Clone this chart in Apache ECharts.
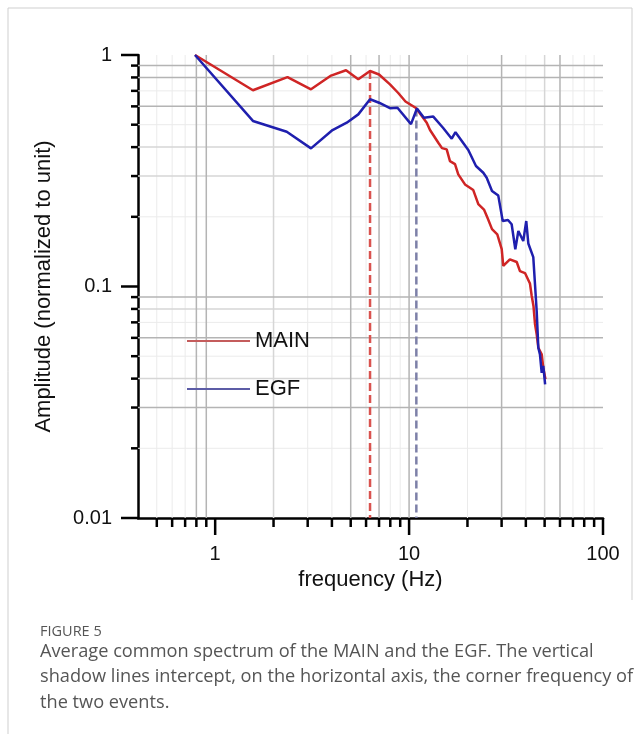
<!DOCTYPE html>
<html><head><meta charset="utf-8">
<script src="https://cdn.jsdelivr.net/npm/echarts@6/dist/echarts.min.js"></script>
<style>html,body{margin:0;padding:0;background:#fff}#c{width:640px;height:734px}</style>
</head><body><div id="c"></div>
<script>
// ---- data ----
const mainFreq = [0.787,1.566,2.36,3.12,3.96,4.73,5.47,6.29,7.0,7.97,8.77,9.58,10.85,12.33,12.82,14.15,14.78,15.63,16.25,17.25,17.93,19.42,21.43,22.75,24.33,25.37,26.77,28.5,30.04,30.6,33.1,35.9,37.3,39.6,42.0,42.9,43.8,44.6,45.5,46.4,48.3,49.2,50.5];
const mainAmp  = [1.0,0.704,0.803,0.711,0.815,0.859,0.785,0.853,0.824,0.747,0.687,0.630,0.590,0.510,0.474,0.418,0.396,0.391,0.348,0.338,0.305,0.276,0.261,0.227,0.215,0.198,0.177,0.168,0.145,0.1227,0.131,0.1276,0.1166,0.1143,0.103,0.091,0.0824,0.0689,0.0621,0.0544,0.0509,0.0446,0.0398];
const egfFreq = [0.787,1.566,2.34,3.12,4.03,4.77,5.47,6.29,7.0,7.97,8.71,10.23,10.98,11.93,13.33,14.96,16.59,17.35,20.2,22.13,24.14,25.13,26.77,28.84,30.4,32.36,33.8,35.3,36.6,38.8,40.2,41.2,43.7,45.5,46.4,47.3,48.3,49.2,50.3];
const egfAmp  = [1.0,0.519,0.466,0.395,0.474,0.510,0.554,0.644,0.622,0.589,0.592,0.503,0.587,0.536,0.542,0.485,0.435,0.464,0.389,0.3315,0.310,0.295,0.2586,0.247,0.1918,0.1937,0.1857,0.1448,0.1737,0.1572,0.1918,0.1534,0.134,0.0784,0.0544,0.0509,0.0424,0.0454,0.0378];
const cornerMain = [6.29, 0.853];
const cornerEgf  = [10.9, 0.587];
const xMin = 0.4, xMax = 100, yMin = 0.01, yMax = 1;
const xMajorTicks = [1, 10, 100];
const xMinorTicks = [0.5,0.6,0.7,0.8,0.9,2,3,4,5,6,7,8,9,20,30,40,50,60,70,80,90];
const yMajorTicks = [0.01, 0.1, 1];
const yMinorTicks = [0.02,0.03,0.04,0.05,0.06,0.07,0.08,0.09,0.2,0.3,0.4,0.5,0.6,0.7,0.8,0.9];
const xGridLight = [0.5,0.6,0.7,3,4,6,8,9,20,40,70,80,90];
const xGridMid   = [2,50];
const xGridDark  = [0.8,0.9,5,7,10,30,60];
const yGridLight = [0.7,0.5,0.2,0.07,0.05,0.02];
const yGridMid   = [0.4,0.3,0.08,0.04];
const yGridDark  = [0.9,0.8,0.6,0.09,0.06,0.03];

const FONT = '"Liberation Sans", Arial, sans-serif';
const chart = echarts.init(document.getElementById('c'));

function vGrid(color, width) {
  return (p, api) => {
    const v = api.value(0);
    const a = api.coord([v, yMax]), b = api.coord([v, yMin]);
    return {type:'line', silent:true, shape:{x1:a[0],y1:a[1],x2:b[0],y2:b[1]}, style:{stroke:color, lineWidth:width}};
  };
}
function hGrid(color, width) {
  return (p, api) => {
    const v = api.value(1);
    const a = api.coord([xMin, v]), b = api.coord([xMax, v]);
    return {type:'line', silent:true, shape:{x1:a[0],y1:a[1],x2:b[0],y2:b[1]}, style:{stroke:color, lineWidth:width}};
  };
}
function xTick(len) {
  return (p, api) => {
    const a = api.coord([api.value(0), yMin]);
    return {type:'line', silent:true, shape:{x1:a[0],y1:a[1],x2:a[0],y2:a[1]+len}, style:{stroke:'#000', lineWidth:2.5}};
  };
}
function yTick(len) {
  return (p, api) => {
    const a = api.coord([xMin, api.value(1)]);
    return {type:'line', silent:true, shape:{x1:a[0],y1:a[1],x2:a[0]-len,y2:a[1]}, style:{stroke:'#000', lineWidth:2.5}};
  };
}
function custom(data, render, z) {
  return {type:'custom', data, renderItem: render, z, silent:true, clip:false, animation:false};
}

const series = [
  custom(xGridLight.map(v=>[v,yMax]), vGrid('#ebebeb',1), 1),
  custom(yGridLight.map(v=>[xMin,v]), hGrid('#ebebeb',1), 1),
  custom(xGridMid.map(v=>[v,yMax]), vGrid('#d6d6d6',1.5), 1),
  custom(yGridMid.map(v=>[xMin,v]), hGrid('#d6d6d6',1.5), 1),
  custom(xGridDark.map(v=>[v,yMax]), vGrid('#b4b4b4',1.5), 1),
  custom(yGridDark.map(v=>[xMin,v]), hGrid('#b4b4b4',1.5), 1),
  custom(xMajorTicks.map(v=>[v,yMin]), xTick(17), 6),
  custom(xMinorTicks.map(v=>[v,yMin]), xTick(9), 6),
  custom(yMajorTicks.map(v=>[xMin,v]), yTick(17), 6),
  custom(yMinorTicks.map(v=>[xMin,v]), yTick(7), 6),
  {name:'MAIN-corner', type:'line', data:[cornerMain, [cornerMain[0], yMin]], showSymbol:false, z:3,
   lineStyle:{color:'#d9534f', width:2.5, type:[8,4]}, silent:true},
  {name:'EGF-corner', type:'line', data:[cornerEgf, [cornerEgf[0], yMin]], showSymbol:false, z:3,
   lineStyle:{color:'#7d80a8', width:2.5, type:[8,4]}, silent:true},
  {name:'MAIN', type:'line', data: mainFreq.map((f,i)=>[f, mainAmp[i]]), showSymbol:false, z:5,
   itemStyle:{color:'#cf2525'}, lineStyle:{color:'#cf2525', width:2.5}},
  {name:'EGF', type:'line', data: egfFreq.map((f,i)=>[f, egfAmp[i]]), showSymbol:false, z:5,
   itemStyle:{color:'#1f1fae'}, lineStyle:{color:'#1f1fae', width:2.5}}
];

const isPow10 = v => Math.abs(Math.log10(v) - Math.round(Math.log10(v))) < 1e-6;

chart.setOption({
  animation:false,
  backgroundColor:'#fff',
  grid:{left:138, top:55, width:465, height:463, containLabel:false},
  xAxis:{type:'log', logBase:10, min:xMin, max:xMax,
    name:'frequency (Hz)', nameLocation:'middle', nameGap:50,
    nameTextStyle:{fontFamily:FONT, fontSize:22, color:'#111'},
    axisLine:{lineStyle:{color:'#000', width:2.5}},
    axisTick:{show:false}, splitLine:{show:false}, minorTick:{show:false},
    axisLabel:{fontFamily:FONT, fontSize:20, color:'#111', margin:26,
      formatter: v => isPow10(v) ? String(Math.round(v)) : ''}},
  yAxis:{type:'log', logBase:10, min:yMin, max:yMax,
    name:'Amplitude (normalized to unit)', nameLocation:'middle', nameGap:83,
    nameTextStyle:{fontFamily:FONT, fontSize:22, color:'#111'},
    axisLine:{lineStyle:{color:'#000', width:2.5}},
    axisTick:{show:false}, splitLine:{show:false},
    axisLabel:{fontFamily:FONT, fontSize:20, color:'#111', margin:26,
      formatter: v => isPow10(v) ? (v >= 1 ? '1' : (v > 0.05 ? '0.1' : '0.01')) : ''}},
  legend:{orient:'vertical', left:187, top:329, padding:0, itemWidth:63, itemHeight:2, itemGap:24, icon:'rect',
    selectedMode:false,
    textStyle:{fontFamily:FONT, fontSize:22, color:'#111', lineHeight:24},
    data:[{name:'MAIN', itemStyle:{color:'#c45c5c'}}, {name:'EGF', itemStyle:{color:'#5c5ca6'}}]},
  graphic:[
    {type:'polyline', silent:true, shape:{points:[[8,740],[8,8],[632,8],[632,600]]}, style:{stroke:'#cfcfcf', lineWidth:1, fill:null}},
    {type:'text', x:40, y:632, style:{text:'FIGURE 5', font:'14.5px "Open Sans"', fill:'#555', verticalAlign:'middle'}},
    {type:'text', x:40, y:652, style:{text:'Average common spectrum of the MAIN and the EGF. The vertical', font:'18.2px "Open Sans"', fill:'#555', verticalAlign:'middle'}},
    {type:'text', x:40, y:677, style:{text:'shadow lines intercept, on the horizontal axis, the corner frequency of', font:'18.2px "Open Sans"', fill:'#555', verticalAlign:'middle'}},
    {type:'text', x:40, y:703, style:{text:'the two events.', font:'18.2px "Open Sans"', fill:'#555', verticalAlign:'middle'}}
  ],
  series
});
</script></body></html>
